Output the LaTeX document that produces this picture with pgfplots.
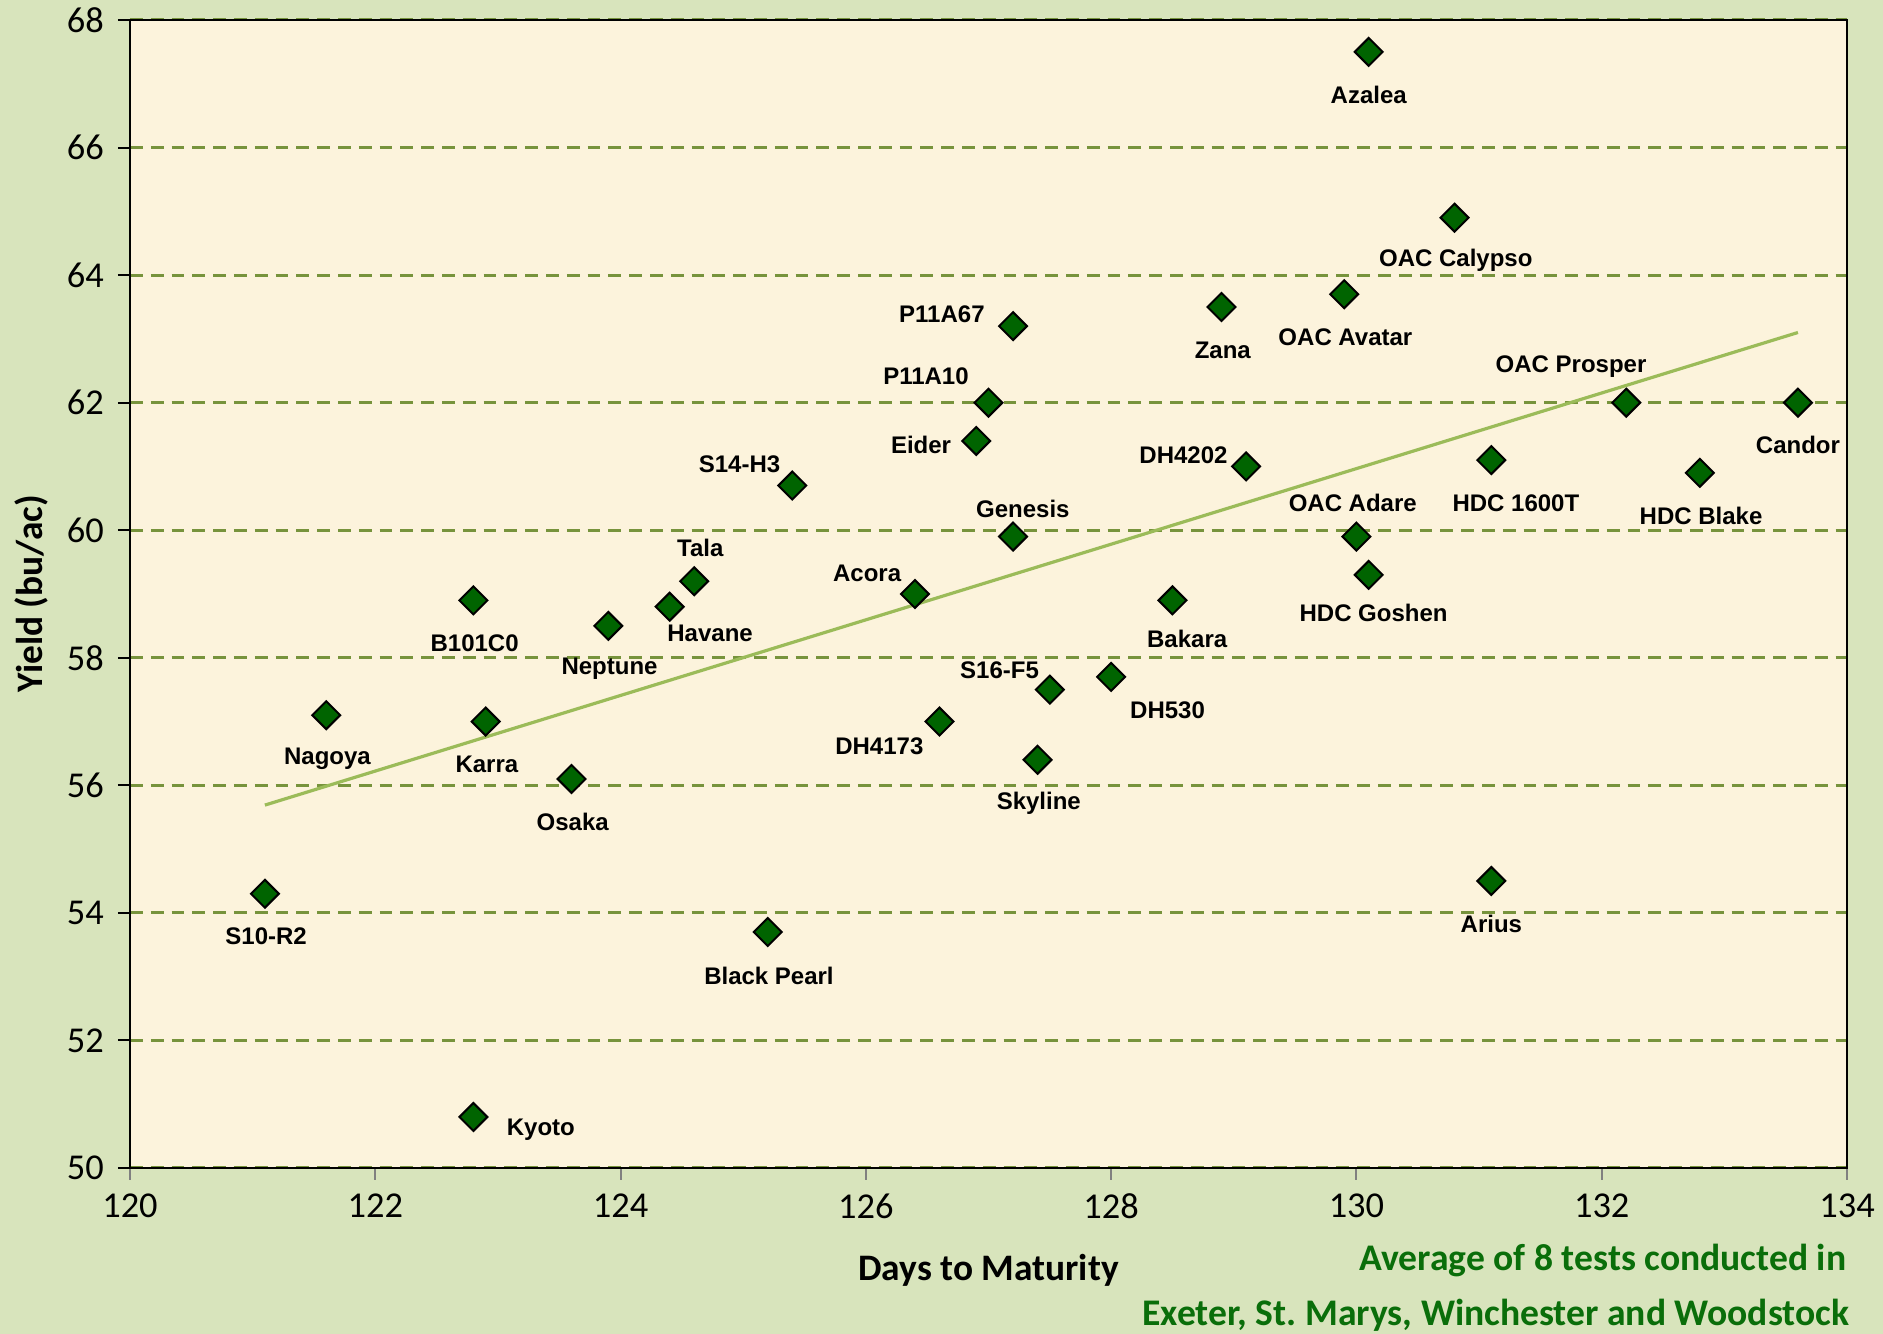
\documentclass[border=0pt]{standalone}
\usepackage{pgfplots}
\pgfplotsset{compat=1.18}
\usepackage{fontspec}
\setmainfont{Carlito}
\newfontfamily\labfont{Liberation Sans}
\definecolor{outerbg}{RGB}{216,228,188}
\definecolor{plotbg}{RGB}{252,243,220}
\definecolor{gridgreen}{RGB}{119,147,60}
\definecolor{trendgreen}{RGB}{155,187,89}
\definecolor{markgreen}{RGB}{0,100,0}
\definecolor{notegreen}{RGB}{10,110,10}
\begin{document}
\begin{tikzpicture}
\fill[outerbg] (-32.5pt,-41.5pt) rectangle (438.25pt,292pt);
\useasboundingbox (-32.5pt,-41.5pt) rectangle (438.25pt,292pt);
\begin{axis}[
  at={(0pt,0pt)}, anchor=south west,
  scale only axis, width=429.25pt, height=287pt,
  xmin=120, xmax=134, ymin=50, ymax=68,
  xtick={120,122,...,134}, ytick={50,52,...,68},
  axis background/.style={fill=plotbg},
  axis line style={black, line width=0.5pt},
  x axis line style={gray!85!black, line width=0.6pt},
  ymajorgrids,
  major grid style={gridgreen, line width=0.75pt, dash pattern=on 3.2pt off 2pt},
  tick align=outside, major tick length=3pt,
  xtick pos=bottom, ytick pos=left,
  xtick style={gray, line width=0.5pt},
  ytick style={black, line width=0.5pt},
  tick label style={font=\fontsize{9.1}{10}\selectfont},
  /pgf/number format/assume math mode=true,
  clip=false,
]
\addplot[trendgreen, line width=0.8pt] coordinates {(121.1,55.69) (133.6,63.10)};
\addplot[only marks, mark=square*, mark size=2.47pt,
  mark options={rotate=45, fill=markgreen, draw=black, line width=0.5pt}]
  table[row sep=\\] {
  x y \\
  130.1 67.5 \\
  130.8 64.9 \\
  129.9 63.7 \\
  128.9 63.5 \\
  127.2 63.2 \\
  127.0 62.0 \\
  126.9 61.4 \\
  132.2 62.0 \\
  133.6 62.0 \\
  131.1 61.1 \\
  132.8 60.9 \\
  129.1 61.0 \\
  125.4 60.7 \\
  127.2 59.9 \\
  130.0 59.9 \\
  130.1 59.3 \\
  124.6 59.2 \\
  124.4 58.8 \\
  126.4 59.0 \\
  122.8 58.9 \\
  128.5 58.9 \\
  123.9 58.5 \\
  128.0 57.7 \\
  127.5 57.5 \\
  121.6 57.1 \\
  122.9 57.0 \\
  126.6 57.0 \\
  127.4 56.4 \\
  123.6 56.1 \\
  121.1 54.3 \\
  131.1 54.5 \\
  125.2 53.7 \\
  122.8 50.8 \\
  };
\begin{scope}[every node/.style={font=\labfont\bfseries\fontsize{6}{7}\selectfont, inner sep=0pt}]
\node at (axis cs:130.10,66.83) {Azalea};
\node at (axis cs:130.81,64.23) {OAC Calypso};
\node at (axis cs:129.91,63.03) {OAC Avatar};
\node at (axis cs:128.91,62.82) {Zana};
\node at (axis cs:126.62,63.39) {P11A67};
\node at (axis cs:126.49,62.41) {P11A10};
\node at (axis cs:126.45,61.33) {Eider};
\node at (axis cs:131.75,62.56) {OAC Prosper};
\node at (axis cs:133.60,61.33) {Candor};
\node at (axis cs:131.30,60.43) {HDC 1600T};
\node at (axis cs:132.81,60.22) {HDC Blake};
\node at (axis cs:128.59,61.18) {DH4202};
\node at (axis cs:124.97,61.03) {S14-H3};
\node at (axis cs:127.28,60.34) {Genesis};
\node at (axis cs:129.97,60.43) {OAC Adare};
\node at (axis cs:130.14,58.70) {HDC Goshen};
\node at (axis cs:124.65,59.73) {Tala};
\node at (axis cs:124.73,58.38) {Havane};
\node at (axis cs:126.01,59.32) {Acora};
\node at (axis cs:122.81,58.23) {B101C0};
\node at (axis cs:128.62,58.30) {Bakara};
\node at (axis cs:123.91,57.83) {Neptune};
\node at (axis cs:128.46,57.17) {DH530};
\node at (axis cs:127.09,57.81) {S16-F5};
\node at (axis cs:121.61,56.42) {Nagoya};
\node at (axis cs:122.91,56.33) {Karra};
\node at (axis cs:126.11,56.61) {DH4173};
\node at (axis cs:127.41,55.72) {Skyline};
\node at (axis cs:123.61,55.42) {Osaka};
\node at (axis cs:121.11,53.63) {S10-R2};
\node at (axis cs:131.10,53.82) {Arius};
\node at (axis cs:125.21,53.01) {Black Pearl};
\node at (axis cs:123.35,50.60) {Kyoto};
\end{scope}
\node[font=\fontsize{9.35}{10}\selectfont\bfseries, inner sep=0pt] at ([yshift=-25.5pt]rel axis cs:0.5,0) {Days to Maturity};
\node[font=\fontsize{9.35}{10}\selectfont\bfseries, inner sep=0pt, rotate=90] at ([xshift=-24.75pt]rel axis cs:0,0.5) {Yield (bu/ac)};
\node[font=\fontsize{9.4}{10}\selectfont\bfseries, text=notegreen, inner sep=0pt, anchor=east] at ([yshift=-23.25pt]rel axis cs:1,0) {Average of 8 tests conducted in};
\node[font=\fontsize{9.4}{10}\selectfont\bfseries, text=notegreen, inner sep=0pt, anchor=east] at ([xshift=0.75pt,yshift=-36.8pt]rel axis cs:1,0) {Exeter, St.\ Marys, Winchester and Woodstock};
\end{axis}
\end{tikzpicture}
\end{document}
